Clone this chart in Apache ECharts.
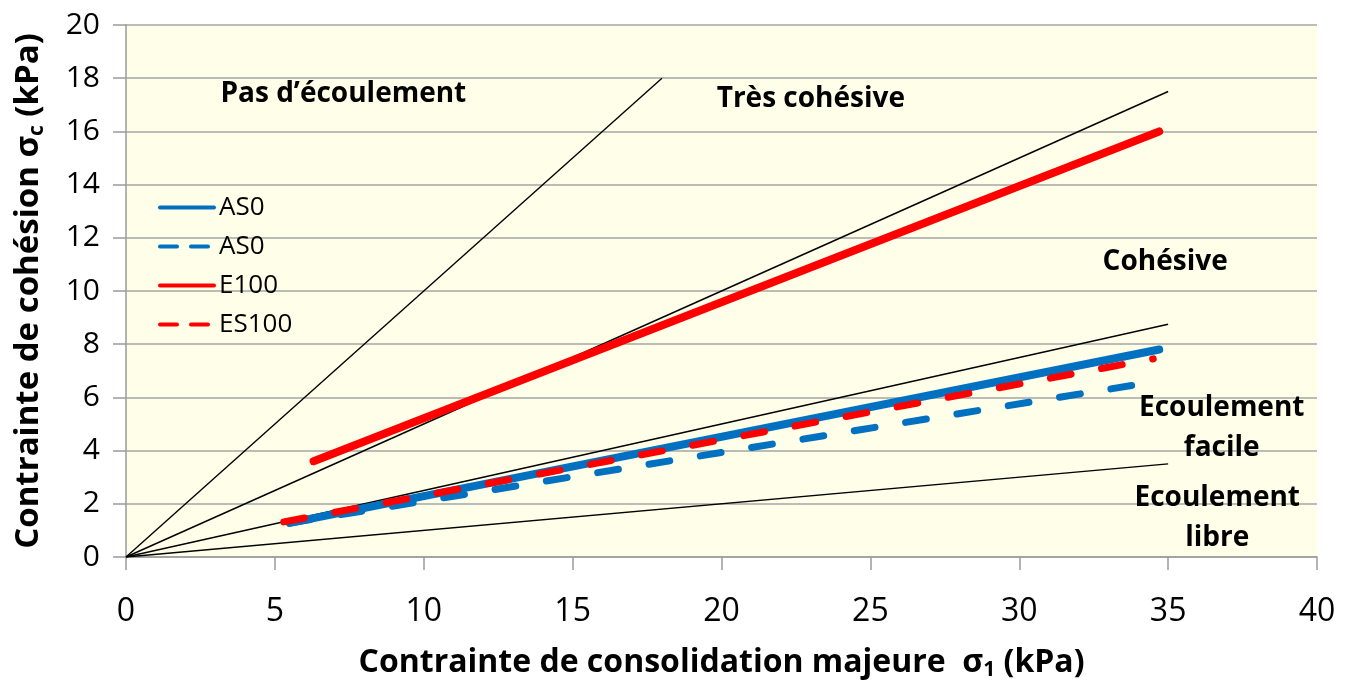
<!DOCTYPE html>
<html>
<head>
<meta charset="utf-8">
<script src="https://cdn.jsdelivr.net/npm/echarts@6/dist/echarts.min.js"></script>
<style>
  html, body { margin: 0; padding: 0; background: #fff; }
  #chart { width: 1355px; height: 684px; }
</style>
</head>
<body>
<div id="chart"></div>
<script>
// Axis ticks
const xTicks = [0, 5, 10, 15, 20, 25, 30, 35, 40];
const yTicks = [0, 2, 4, 6, 8, 10, 12, 14, 16, 18, 20];

// Measured flow functions [sigma1, sigmaC] (kPa)
const as0 = [[5.5, 1.28], [34.7, 7.8]];
const as0Dashed = [[5.5, 1.28], [34.6, 6.6]];
const e100 = [[6.3, 3.6], [34.7, 16.0]];
const es100 = [[5.3, 1.32], [34.5, 7.45]];

// Flowability boundaries ff = sigma1 / sigmaC (1, 2, 4, 10)
const ff1 = [[0, 0], [18, 18]];
const ff2 = [[0, 0], [35, 17.5]];
const ff4 = [[0, 0], [35, 8.75]];
const ff10 = [[0, 0], [35, 3.5]];

// Region names and where they sit
const zoneNames = ['Pas d\u2019écoulement', 'Très cohésive', 'Cohésive', 'Ecoulement\nfacile', 'Ecoulement\nlibre'];
const zonePos = [[7.3, 17.4], [23.0, 17.2], [34.9, 11.1], [36.8, 4.85], [36.65, 1.47]];

const legendLabels = { 'AS0': 'AS0', 'AS0 tassé': 'AS0', 'E100': 'E100', 'ES100': 'ES100' };

const BLUE = '#0070C0';
const RED = '#FF0000';
const FONT = 'Open Sans';

function boundary(name, data) {
  return {
    name: name, type: 'line', data: data, symbol: 'none', silent: true,
    lineStyle: { color: '#000', width: 1.4 }, z: 2
  };
}

const chart = echarts.init(document.getElementById('chart'));
chart.setOption({
  animation: false,
  textStyle: { fontFamily: FONT },
  grid: {
    left: 126, right: 38, top: 25, bottom: 127,
    outerBoundsMode: 'none', containLabel: false,
    show: true, backgroundColor: '#FEFEE9', borderWidth: 0
  },
  legend: {
    left: 158, top: 193, orient: 'vertical', padding: 0,
    itemWidth: 54, itemHeight: 14, itemGap: 10, itemTextGap: 6,
    textStyle: { fontSize: 26, color: '#000', fontFamily: FONT, lineHeight: 29 },
    formatter: n => legendLabels[n],
    itemStyle: { opacity: 0 },
    data: [
      { name: 'AS0', lineStyle: { width: 4 } },
      { name: 'AS0 tassé', lineStyle: { width: 4, type: [17, 14] } },
      { name: 'E100', lineStyle: { width: 4 } },
      { name: 'ES100', lineStyle: { width: 4, type: [17, 14] } }
    ]
  },
  xAxis: {
    type: 'value', min: xTicks[0], max: xTicks[xTicks.length - 1], interval: 5,
    name: '{b|Contrainte de consolidation majeure  σ}{s|1}{b| (kPa)}',
    nameLocation: 'middle', nameGap: 87,
    nameTextStyle: {
      rich: {
        b: { fontSize: 32, fontWeight: 'bold', color: '#000', fontFamily: FONT },
        s: { fontSize: 21, fontWeight: 'bold', color: '#000', fontFamily: FONT, padding: [16, 0, 0, 0] }
      }
    },
    axisLine: { lineStyle: { color: '#9a9a9a', width: 1.5 } },
    axisTick: { show: true, inside: false, length: 13, lineStyle: { color: '#9a9a9a', width: 1.5 } },
    axisLabel: { fontSize: 32, color: '#000', margin: 39 },
    splitLine: { show: false }
  },
  yAxis: {
    type: 'value', min: yTicks[0], max: yTicks[yTicks.length - 1], interval: 2,
    name: '{b|Contrainte de cohésion σ}{s|c}{b| (kPa)}',
    nameLocation: 'middle', nameGap: 78, nameRotate: 90,
    nameTextStyle: {
      rich: {
        b: { fontSize: 33, fontWeight: 'bold', color: '#000', fontFamily: FONT },
        s: { fontSize: 21, fontWeight: 'bold', color: '#000', fontFamily: FONT, padding: [17, 0, 0, 0] }
      }
    },
    axisLine: { show: true, lineStyle: { color: '#9a9a9a', width: 1.5 } },
    axisTick: { show: true, inside: false, length: 13, lineStyle: { color: '#9a9a9a', width: 1.5 } },
    axisLabel: { fontSize: 30, color: '#000', margin: 26 },
    splitLine: { show: true, lineStyle: { color: '#a6a6a6', width: 1.5 } }
  },
  series: [
    boundary('ff1', ff1),
    boundary('ff2', ff2),
    boundary('ff4', ff4),
    boundary('ff10', ff10),
    {
      name: 'E100', type: 'line', data: e100, symbol: 'none', z: 4,
      lineStyle: { color: RED, width: 8, cap: 'round' }, itemStyle: { color: RED }
    },
    {
      name: 'AS0', type: 'line', data: as0, symbol: 'none', z: 3,
      lineStyle: { color: BLUE, width: 8, cap: 'round' }, itemStyle: { color: BLUE }
    },
    {
      name: 'AS0 tassé', type: 'line', data: as0Dashed, symbol: 'none', z: 3,
      lineStyle: { color: BLUE, width: 7, cap: 'round', type: [21, 31] }, itemStyle: { color: BLUE }
    },
    {
      name: 'ES100', type: 'line', data: es100, symbol: 'none', z: 4,
      lineStyle: { color: RED, width: 7, cap: 'round', type: [21, 31] }, itemStyle: { color: RED }
    },
    {
      name: 'zones', type: 'scatter', symbolSize: 0, silent: true, z: 5,
      itemStyle: { opacity: 1 },
      data: zonePos.map((p, i) => ({ value: p, name: zoneNames[i] })),
      label: {
        show: true, position: 'inside', formatter: p => p.name, opacity: 1,
        fontSize: 28, fontWeight: 'bold', color: '#000', lineHeight: 40, align: 'center'
      }
    }
  ]
});
</script>
</body>
</html>
